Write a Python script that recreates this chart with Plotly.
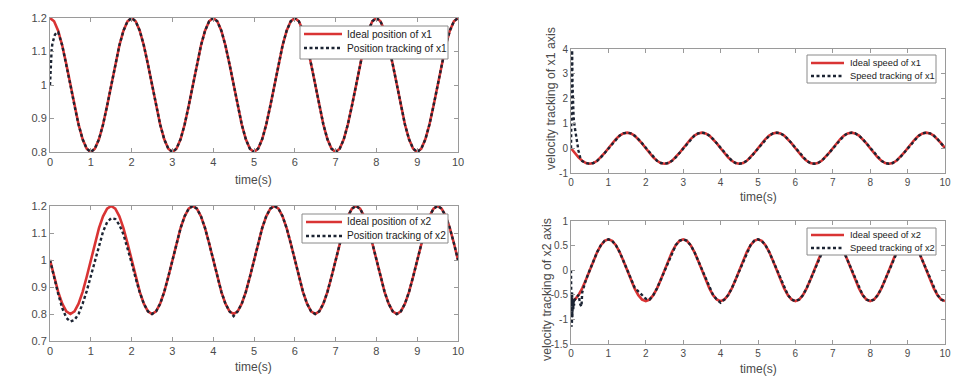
import plotly.graph_objects as go

# ---------------- data ----------------
T = [i / 10 for i in range(101)]  # time grid 0..10 s, step 0.1

X1_IDEAL = [
    1.200, 1.190, 1.162, 1.118, 1.062, 1.000, 0.938, 0.882, 0.838, 0.810,
    0.800, 0.810, 0.838, 0.882, 0.938, 1.000, 1.062, 1.118, 1.162, 1.190,
    1.200, 1.190, 1.162, 1.118, 1.062, 1.000, 0.938, 0.882, 0.838, 0.810,
    0.800, 0.810, 0.838, 0.882, 0.938, 1.000, 1.062, 1.118, 1.162, 1.190,
    1.200, 1.190, 1.162, 1.118, 1.062, 1.000, 0.938, 0.882, 0.838, 0.810,
    0.800, 0.810, 0.838, 0.882, 0.938, 1.000, 1.062, 1.118, 1.162, 1.190,
    1.200, 1.190, 1.162, 1.118, 1.062, 1.000, 0.938, 0.882, 0.838, 0.810,
    0.800, 0.810, 0.838, 0.882, 0.938, 1.000, 1.062, 1.118, 1.162, 1.190,
    1.200, 1.190, 1.162, 1.118, 1.062, 1.000, 0.938, 0.882, 0.838, 0.810,
    0.800, 0.810, 0.838, 0.882, 0.938, 1.000, 1.062, 1.118, 1.162, 1.190,
    1.200,
]
X1_TRACK_T = [0, 0.01, 0.02, 0.04, 0.06, 0.09, 0.12, 0.16] + T[2:]
X1_TRACK = [
    1.000, 1.040, 1.075, 1.105, 1.125, 1.140, 1.150, 1.156,
    1.158, 1.118, 1.062, 1.000, 0.938, 0.882, 0.838, 0.810,
    0.800, 0.810, 0.838, 0.882, 0.938, 1.000, 1.062, 1.118, 1.162, 1.190,
    1.200, 1.190, 1.162, 1.118, 1.062, 1.000, 0.938, 0.882, 0.838, 0.810,
    0.800, 0.810, 0.838, 0.882, 0.938, 1.000, 1.062, 1.118, 1.162, 1.190,
    1.200, 1.190, 1.162, 1.118, 1.062, 1.000, 0.938, 0.882, 0.838, 0.810,
    0.800, 0.810, 0.838, 0.882, 0.938, 1.000, 1.062, 1.118, 1.162, 1.190,
    1.200, 1.190, 1.162, 1.118, 1.062, 1.000, 0.938, 0.882, 0.838, 0.810,
    0.800, 0.810, 0.838, 0.882, 0.938, 1.000, 1.062, 1.118, 1.162, 1.190,
    1.200, 1.190, 1.162, 1.118, 1.062, 1.000, 0.938, 0.882, 0.838, 0.810,
    0.800, 0.810, 0.838, 0.882, 0.938, 1.000, 1.062, 1.118, 1.162, 1.190,
    1.200,
]

X2_IDEAL = [
    1.000, 0.938, 0.882, 0.838, 0.810, 0.800, 0.810, 0.838, 0.882, 0.938,
    1.000, 1.062, 1.118, 1.162, 1.190, 1.200, 1.190, 1.162, 1.118, 1.062,
    1.000, 0.938, 0.882, 0.838, 0.810, 0.800, 0.810, 0.838, 0.882, 0.938,
    1.000, 1.062, 1.118, 1.162, 1.190, 1.200, 1.190, 1.162, 1.118, 1.062,
    1.000, 0.938, 0.882, 0.838, 0.810, 0.800, 0.810, 0.838, 0.882, 0.938,
    1.000, 1.062, 1.118, 1.162, 1.190, 1.200, 1.190, 1.162, 1.118, 1.062,
    1.000, 0.938, 0.882, 0.838, 0.810, 0.800, 0.810, 0.838, 0.882, 0.938,
    1.000, 1.062, 1.118, 1.162, 1.190, 1.200, 1.190, 1.162, 1.118, 1.062,
    1.000, 0.938, 0.882, 0.838, 0.810, 0.800, 0.810, 0.838, 0.882, 0.938,
    1.000, 1.062, 1.118, 1.162, 1.190, 1.200, 1.190, 1.162, 1.118, 1.062,
    1.000,
]
X2_TRACK = [
    1.000, 0.935, 0.875, 0.822, 0.786, 0.772, 0.778, 0.800, 0.838, 0.885,
    0.940, 0.998, 1.055, 1.105, 1.140, 1.155, 1.152, 1.130, 1.095, 1.045,
    0.990, 0.932, 0.880, 0.838, 0.810, 0.800, 0.810, 0.838, 0.882, 0.938,
    1.000, 1.062, 1.118, 1.162, 1.190, 1.200, 1.190, 1.162, 1.118, 1.062,
    1.000, 0.938, 0.882, 0.838, 0.810, 0.792, 0.810, 0.838, 0.882, 0.938,
    1.000, 1.062, 1.118, 1.162, 1.190, 1.200, 1.190, 1.162, 1.118, 1.062,
    1.000, 0.938, 0.882, 0.838, 0.810, 0.800, 0.810, 0.838, 0.882, 0.938,
    1.000, 1.062, 1.118, 1.162, 1.190, 1.200, 1.190, 1.162, 1.118, 1.062,
    1.000, 0.938, 0.882, 0.838, 0.810, 0.800, 0.810, 0.838, 0.882, 0.938,
    1.000, 1.062, 1.118, 1.162, 1.190, 1.200, 1.190, 1.162, 1.118, 1.062,
    1.000,
]

V1_IDEAL = [
    0.000, -0.194, -0.369, -0.508, -0.597, -0.628, -0.597, -0.508, -0.369, -0.194,
    0.000, 0.194, 0.369, 0.508, 0.597, 0.628, 0.597, 0.508, 0.369, 0.194,
    0.000, -0.194, -0.369, -0.508, -0.597, -0.628, -0.597, -0.508, -0.369, -0.194,
    0.000, 0.194, 0.369, 0.508, 0.597, 0.628, 0.597, 0.508, 0.369, 0.194,
    0.000, -0.194, -0.369, -0.508, -0.597, -0.628, -0.597, -0.508, -0.369, -0.194,
    0.000, 0.194, 0.369, 0.508, 0.597, 0.628, 0.597, 0.508, 0.369, 0.194,
    0.000, -0.194, -0.369, -0.508, -0.597, -0.628, -0.597, -0.508, -0.369, -0.194,
    0.000, 0.194, 0.369, 0.508, 0.597, 0.628, 0.597, 0.508, 0.369, 0.194,
    0.000, -0.194, -0.369, -0.508, -0.597, -0.628, -0.597, -0.508, -0.369, -0.194,
    0.000, 0.194, 0.369, 0.508, 0.597, 0.628, 0.597, 0.508, 0.369, 0.194,
    0.000,
]
V1_TRACK_T = [0, 0.01, 0.02, 0.03, 0.04, 0.05, 0.07, 0.1, 0.13, 0.16, 0.2, 0.25] + T[3:]
V1_TRACK = [
    0.000, 1.300, 2.800, 3.950, 2.600, 1.700, 1.200, 0.850, 0.500, 0.200, -0.100, -0.400,
    -0.520, -0.597, -0.628, -0.597, -0.508, -0.369, -0.194,
    0.000, 0.194, 0.369, 0.508, 0.597, 0.628, 0.597, 0.508, 0.369, 0.194,
    0.000, -0.194, -0.369, -0.508, -0.597, -0.628, -0.597, -0.508, -0.369, -0.194,
    0.000, 0.194, 0.369, 0.508, 0.597, 0.628, 0.597, 0.508, 0.369, 0.194,
    0.000, -0.194, -0.369, -0.508, -0.597, -0.628, -0.597, -0.508, -0.369, -0.194,
    0.000, 0.194, 0.369, 0.508, 0.597, 0.628, 0.597, 0.508, 0.369, 0.194,
    0.000, -0.194, -0.369, -0.508, -0.597, -0.628, -0.597, -0.508, -0.369, -0.194,
    0.000, 0.194, 0.369, 0.508, 0.597, 0.628, 0.597, 0.508, 0.369, 0.194,
    0.000, -0.194, -0.369, -0.508, -0.597, -0.628, -0.597, -0.508, -0.369, -0.194,
    0.000, 0.194, 0.369, 0.508, 0.597, 0.628, 0.597, 0.508, 0.369, 0.194,
    0.000,
]

V2_IDEAL = [
    -0.628, -0.597, -0.508, -0.369, -0.194, 0.000, 0.194, 0.369, 0.508, 0.597,
    0.628, 0.597, 0.508, 0.369, 0.194, 0.000, -0.194, -0.369, -0.508, -0.597,
    -0.628, -0.597, -0.508, -0.369, -0.194, 0.000, 0.194, 0.369, 0.508, 0.597,
    0.628, 0.597, 0.508, 0.369, 0.194, 0.000, -0.194, -0.369, -0.508, -0.597,
    -0.628, -0.597, -0.508, -0.369, -0.194, 0.000, 0.194, 0.369, 0.508, 0.597,
    0.628, 0.597, 0.508, 0.369, 0.194, 0.000, -0.194, -0.369, -0.508, -0.597,
    -0.628, -0.597, -0.508, -0.369, -0.194, 0.000, 0.194, 0.369, 0.508, 0.597,
    0.628, 0.597, 0.508, 0.369, 0.194, 0.000, -0.194, -0.369, -0.508, -0.597,
    -0.628, -0.597, -0.508, -0.369, -0.194, 0.000, 0.194, 0.369, 0.508, 0.597,
    0.628, 0.597, 0.508, 0.369, 0.194, 0.000, -0.194, -0.369, -0.508, -0.597,
    -0.628,
]
V2_TRACK_T = [0, 0.005, 0.01, 0.015, 0.02, 0.025, 0.03, 0.035, 0.04, 0.045, 0.05,
              0.06, 0.07, 0.08, 0.09, 0.1, 0.15, 0.2, 0.25, 0.28, 0.3, 0.35] + T[4:]
V2_TRACK = [
    0.000, -1.100, -0.200, -1.150, -0.350, -1.050, -0.450, -0.950, -0.550, -0.900, -0.600,
    -0.800, -0.580, -0.720, -0.620, -0.600, -0.560, -0.500, -0.700, -0.740, -0.450, -0.300,
    -0.194, 0.000, 0.194, 0.369, 0.508, 0.597,
    0.628, 0.597, 0.508, 0.369, 0.194, 0.000, -0.194, -0.350, -0.430, -0.500,
    -0.580, -0.597, -0.508, -0.369, -0.194, 0.000, 0.194, 0.369, 0.508, 0.597,
    0.628, 0.597, 0.508, 0.369, 0.194, 0.000, -0.194, -0.369, -0.508, -0.597,
    -0.660, -0.597, -0.508, -0.369, -0.194, 0.000, 0.194, 0.369, 0.508, 0.597,
    0.628, 0.597, 0.508, 0.369, 0.194, 0.000, -0.194, -0.369, -0.508, -0.597,
    -0.628, -0.597, -0.508, -0.369, -0.194, 0.000, 0.194, 0.369, 0.508, 0.597,
    0.628, 0.597, 0.508, 0.369, 0.194, 0.000, -0.194, -0.369, -0.508, -0.597,
    -0.628, -0.597, -0.508, -0.369, -0.194, 0.000, 0.194, 0.369, 0.508, 0.597,
    0.628, 0.597, 0.508, 0.369, 0.194, 0.000, -0.194, -0.369, -0.508, -0.597,
    -0.628,
]

X_TICKS = [0, 1, 2, 3, 4, 5, 6, 7, 8, 9, 10]
Y1_TICKS = [0.8, 0.9, 1.0, 1.1, 1.2]
Y1_LABELS = ["0.8", "0.9", "1", "1.1", "1.2"]
Y2_TICKS = [0.7, 0.8, 0.9, 1.0, 1.1, 1.2]
Y2_LABELS = ["0.7", "0.8", "0.9", "1", "1.1", "1.2"]
Y3_TICKS = [-1, 0, 1, 2, 3, 4]
Y4_TICKS = [-1.5, -1, -0.5, 0, 0.5, 1]
Y4_LABELS = ["-1.5", "-1", "-0.5", "0", "0.5", "1"]

NAMES = [
    ("Ideal position of x1", "Position tracking of x1"),
    ("Ideal position of x2", "Position tracking of x2"),
    ("Ideal speed of x1", "Speed tracking of x1"),
    ("Ideal speed of x2", "Speed tracking of x2"),
]

# ---------------- styling ----------------
# the page body has an 8px default margin, so the figure is drawn 8px in
OFF = 8
W, H = 971 - OFF, 385 - OFF
RED = "#d93434"
DARK = "#1c2433"
AXC = "#9a9a9a"
TXT = "#4a4a4a"
FONT = "Liberation Sans, Arial, sans-serif"

def px_x(p):
    return (p - OFF) / W

def px_y(p):
    return 1 - (p - OFF) / H

panels = [
    dict(box=(50, 458, 18, 152), yr=[0.8, 1.2], yt=Y1_TICKS, yl=Y1_LABELS, fs=11),
    dict(box=(50, 458, 206, 341), yr=[0.7, 1.2], yt=Y2_TICKS, yl=Y2_LABELS, fs=11),
    dict(box=(571, 945, 49, 173), yr=[-1, 4], yt=Y3_TICKS, yl=[str(v) for v in Y3_TICKS], fs=10),
    dict(box=(571, 945, 221, 344), yr=[-1.5, 1], yt=Y4_TICKS, yl=Y4_LABELS, fs=10),
]

# legend boxes: (x0, y0, x1, y1), row y's, sample x-range, text x, font size
legends = [
    dict(box=(300, 26, 448, 59), rows=(34, 48), sx=(304, 342), tx=345, fs=10.2),
    dict(box=(302, 214, 448, 243), rows=(222, 236), sx=(306, 342), tx=345, fs=10.1),
    dict(box=(807, 55, 936, 83), rows=(63, 76), sx=(811, 844), tx=848, fs=9.3),
    dict(box=(807, 228, 936, 255), rows=(235, 248), sx=(811, 844), tx=848, fs=9.3),
]

series = [
    (T, X1_IDEAL, X1_TRACK_T, X1_TRACK),
    (T, X2_IDEAL, T, X2_TRACK),
    (T, V1_IDEAL, V1_TRACK_T, V1_TRACK),
    (T, V2_IDEAL, V2_TRACK_T, V2_TRACK),
]

fig = go.Figure()
layout = dict(
    width=W, height=H,
    margin=dict(l=0, r=0, t=0, b=0, pad=0, autoexpand=False),
    paper_bgcolor="white", plot_bgcolor="white",
    font=dict(family=FONT, color=TXT),
    showlegend=False,
)

shapes = []
annotations = []
RED_W, DARK_W, DARK_DASH = 2.6, 2.4, "3px,2.5px"

for i, (p, s) in enumerate(zip(panels, series)):
    k = "" if i == 0 else str(i + 1)
    xa, ya = "x" + k, "y" + k
    ti, yi, tt, yt = s
    fig.add_trace(go.Scatter(x=ti, y=yi, mode="lines", name=NAMES[i][0],
                             line=dict(color=RED, width=RED_W),
                             xaxis=xa, yaxis=ya))
    fig.add_trace(go.Scatter(x=tt, y=yt, mode="lines", name=NAMES[i][1],
                             line=dict(color=DARK, width=DARK_W, dash=DARK_DASH),
                             xaxis=xa, yaxis=ya))
    x0, x1, y0, y1 = p["box"]
    common = dict(showline=True, linecolor=AXC, linewidth=1, mirror="ticks",
                  ticks="inside", ticklen=4, tickcolor=AXC, showgrid=False,
                  zeroline=False, automargin=False,
                  tickfont=dict(size=p["fs"], color=TXT, family=FONT))
    layout["xaxis" + k] = dict(domain=[px_x(x0), px_x(x1)], range=[0, 10],
                               tickvals=X_TICKS, anchor=ya, **common)
    layout["yaxis" + k] = dict(domain=[px_y(y1), px_y(y0)], range=p["yr"],
                               tickvals=p["yt"], ticktext=p["yl"], anchor=xa, **common)

    # legend box drawn in paper coordinates
    L = legends[i]
    bx0, by0, bx1, by1 = L["box"]
    shapes.append(dict(type="rect", xref="paper", yref="paper", layer="above",
                       x0=px_x(bx0), x1=px_x(bx1), y0=px_y(by1), y1=px_y(by0),
                       line=dict(color="#8a8a8a", width=1), fillcolor="white"))
    styles = [dict(color=RED, width=RED_W), dict(color=DARK, width=DARK_W, dash=DARK_DASH)]
    for r, name, st in zip(L["rows"], NAMES[i], styles):
        shapes.append(dict(type="line", xref="paper", yref="paper", layer="above",
                           x0=px_x(L["sx"][0]), x1=px_x(L["sx"][1]),
                           y0=px_y(r), y1=px_y(r), line=st))
        annotations.append(dict(text=name, x=px_x(L["tx"]), y=px_y(r), xref="paper", yref="paper",
                                showarrow=False, xanchor="left", yanchor="middle",
                                font=dict(size=L["fs"], color="#222222", family=FONT)))

for cx, cy in [(254, 180), (254, 367), (758, 197), (758, 369)]:
    annotations.append(dict(text="time(s)", x=px_x(cx), y=px_y(cy), xref="paper", yref="paper",
                            showarrow=False, xanchor="center", yanchor="middle",
                            font=dict(size=12, color=TXT, family=FONT)))
for cx, cy, lab in [(551, 99, "velocity tracking of x1 axis"), (547, 290, "velocity tracking of x2 axis")]:
    annotations.append(dict(text=lab, x=px_x(cx), y=px_y(cy), xref="paper", yref="paper",
                            showarrow=False, textangle=-90, xanchor="center", yanchor="middle",
                            font=dict(size=12.3, color=TXT, family=FONT)))
layout["annotations"] = annotations
layout["shapes"] = shapes

fig.update_layout(**layout)
fig.write_html("out.html")
